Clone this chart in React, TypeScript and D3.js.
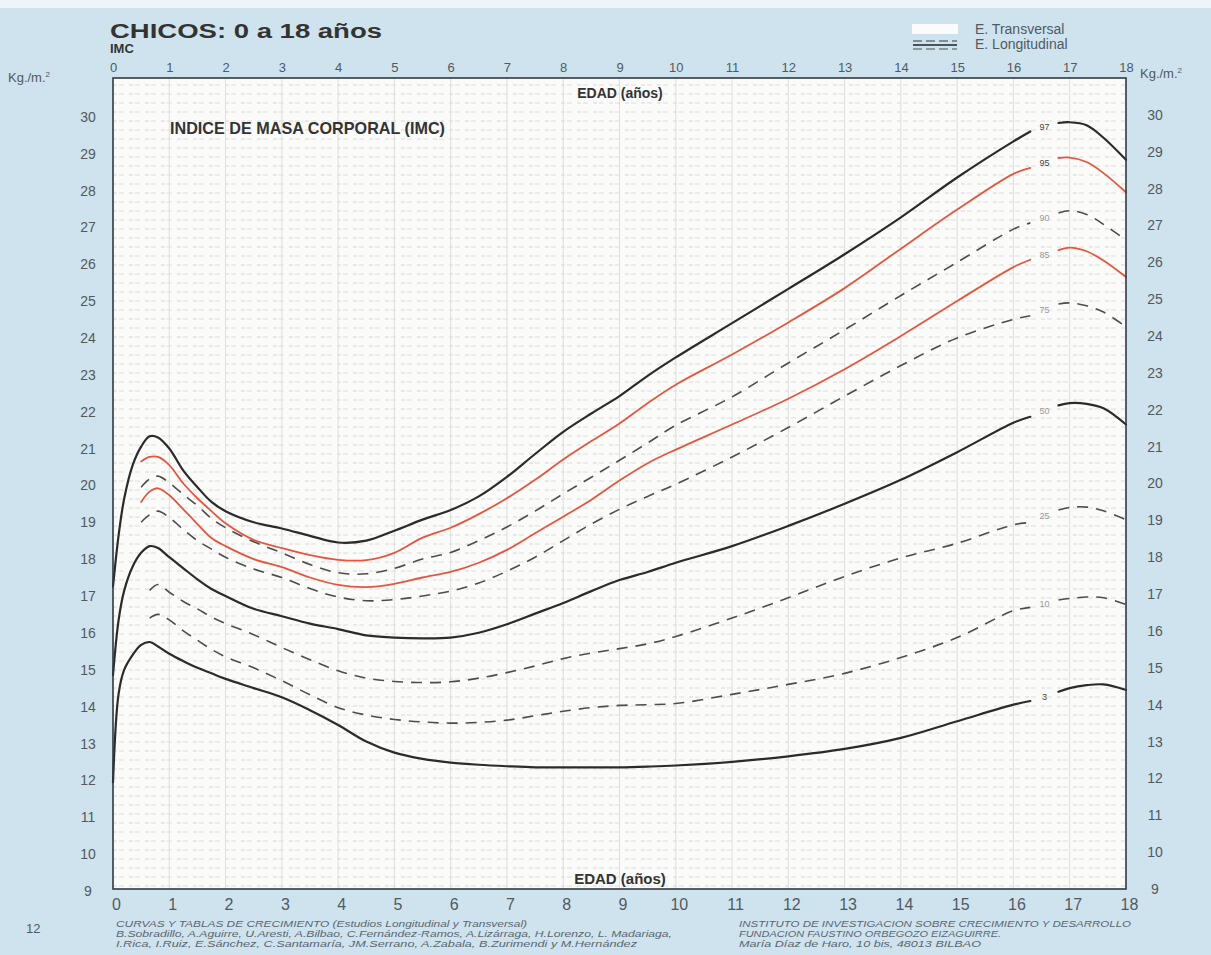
import React, { useEffect, useRef } from 'react';
import * as d3 from 'd3';

// edad (años) - shared grid, null = curve interrupted (label gap)
const ages = [0, 0.1, 0.2, 0.35, 0.5, 0.65, 0.8, 1, 1.25, 1.5, 1.75, 2, 2.5, 3, 3.5, 4, 4.5, 5, 5.5, 6, 6.5, 7, 7.5, 8, 8.5, 9, 9.5, 10, 11, 12, 13, 14, 15, 16, 16.3, 16.55, 16.8, 17, 17.3, 17.6, 18];

const p97 = [17.2, 18.6, 19.6, 20.5, 21.0, 21.28, 21.25, 20.95, 20.35, 19.9, 19.5, 19.25, 18.95, 18.78, 18.58, 18.4, 18.45, 18.72, 19.02, 19.28, 19.65, 20.18, 20.8, 21.4, 21.9, 22.37, 22.92, 23.42, 24.35, 25.28, 26.22, 27.22, 28.3, 29.28, 29.55, null, 29.78, 29.8, 29.72, 29.38, 28.78];
const p95 = [null, null, null, null, 20.6, 20.72, 20.72, 20.5, 20.0, 19.6, 19.25, 18.92, 18.47, 18.25, 18.06, 17.93, 17.92, 18.12, 18.53, 18.8, 19.17, 19.6, 20.1, 20.65, 21.15, 21.63, 22.18, 22.68, 23.5, 24.37, 25.3, 26.37, 27.43, 28.4, 28.56, null, 28.83, 28.84, 28.72, 28.42, 27.9];
const p90 = [null, null, null, null, 19.9, 20.12, 20.2, 20.02, 19.7, 19.4, 19.05, 18.8, 18.42, 18.12, 17.8, 17.58, 17.55, 17.7, 17.95, 18.13, 18.45, 18.82, 19.25, 19.72, 20.17, 20.63, 21.1, 21.58, 22.35, 23.27, 24.17, 25.1, 26.0, 26.9, 27.07, null, 27.34, 27.4, 27.3, 27.03, 26.6];
const p85 = [null, null, null, null, 19.5, 19.78, 19.87, 19.68, 19.3, 18.9, 18.52, 18.3, 17.95, 17.73, 17.45, 17.25, 17.19, 17.28, 17.45, 17.6, 17.85, 18.2, 18.65, 19.1, 19.56, 20.08, 20.55, 20.92, 21.6, 22.3, 23.1, 24.0, 24.95, 25.87, 26.07, null, 26.33, 26.4, 26.3, 26.05, 25.6];
const p75 = [null, null, null, null, 18.95, 19.15, 19.25, 19.08, 18.75, 18.45, 18.22, 18.0, 17.68, 17.45, 17.15, 16.92, 16.82, 16.85, 16.95, 17.08, 17.3, 17.62, 18.0, 18.45, 18.9, 19.3, 19.65, 19.98, 20.72, 21.52, 22.37, 23.2, 23.95, 24.45, 24.55, null, 24.87, 24.9, 24.82, 24.65, 24.25];
const p50 = [14.8, 16.3, 17.1, 17.75, 18.12, 18.3, 18.25, 18.0, 17.7, 17.4, 17.14, 16.95, 16.6, 16.4, 16.2, 16.05, 15.88, 15.82, 15.8, 15.82, 15.95, 16.18, 16.47, 16.76, 17.08, 17.38, 17.6, 17.85, 18.3, 18.85, 19.45, 20.1, 20.85, 21.65, 21.81, null, 22.12, 22.18, 22.16, 22.04, 21.6];
const p25 = [null, null, null, null, null, 17.1, 17.26, 17.05, 16.8, 16.6, 16.38, 16.2, 15.9, 15.55, 15.22, 14.92, 14.72, 14.63, 14.6, 14.62, 14.72, 14.87, 15.05, 15.25, 15.4, 15.52, 15.65, 15.85, 16.35, 16.9, 17.48, 17.98, 18.38, 18.88, 18.94, null, 19.28, 19.35, 19.36, 19.26, 19.02];
const p10 = [null, null, null, null, null, 16.35, 16.45, 16.3, 16.0, 15.75, 15.5, 15.3, 15.0, 14.65, 14.27, 13.92, 13.72, 13.6, 13.53, 13.5, 13.52, 13.58, 13.7, 13.82, 13.92, 13.98, 14.0, 14.03, 14.28, 14.55, 14.85, 15.28, 15.82, 16.55, 16.64, null, 16.84, 16.88, 16.92, 16.9, 16.72];
const p3 = [11.9, 14.3, 14.95, 15.35, 15.62, 15.7, 15.58, 15.38, 15.18, 15.0, 14.85, 14.7, 14.45, 14.2, 13.85, 13.45, 13.0, 12.7, 12.53, 12.43, 12.37, 12.33, 12.3, 12.3, 12.3, 12.3, 12.32, 12.35, 12.45, 12.6, 12.8, 13.1, 13.55, 14.0, 14.1, null, 14.35, 14.45, 14.53, 14.55, 14.4];

const percentileNames = ['97', '95', '90', '85', '75', '50', '25', '10', '3'];
const percentileValues = [p97, p95, p90, p85, p75, p50, p25, p10, p3];

const ageTicks = [0, 1, 2, 3, 4, 5, 6, 7, 8, 9, 10, 11, 12, 13, 14, 15, 16, 17, 18];
const imcTicks = [9, 10, 11, 12, 13, 14, 15, 16, 17, 18, 19, 20, 21, 22, 23, 24, 25, 26, 27, 28, 29, 30];

const footerLeft = [
  'CURVAS Y TABLAS DE CRECIMIENTO (Estudios Longitudinal y Transversal)',
  'B.Sobradillo, A.Aguirre, U.Aresti, A.Bilbao, C.Fernández-Ramos, A.Lizárraga, H.Lorenzo, L. Madariaga,',
  'I.Rica, I.Ruiz, E.Sánchez, C.Santamaría, JM.Serrano,  A.Zabala, B.Zurimendi y M.Hernández'
];
const footerRight = [
  'INSTITUTO DE INVESTIGACION SOBRE CRECIMIENTO Y DESARROLLO',
  'FUNDACION FAUSTINO ORBEGOZO EIZAGUIRRE.',
  'María Díaz de Haro, 10 bis, 48013 BILBAO'
];

// line look per percentile
const kindOf: Record<string, string> = {
  '97': 'black', '95': 'red', '90': 'dash', '85': 'red', '75': 'dash',
  '50': 'black', '25': 'dash', '10': 'dash', '3': 'black'
};

const W = 1211;
const H = 955;
const FONT = '"Liberation Sans", Arial, Helvetica, sans-serif';
const NARROW = '"Liberation Sans Narrow", "Liberation Sans", Arial, sans-serif';

export default function App () {
  const ref = useRef<SVGSVGElement>(null);

  useEffect(() => {
    document.body.style.margin = '0';
    const svg = d3.select(ref.current);
    svg.selectAll('*').remove();

    const x = d3.scaleLinear().domain([0, 18]).range([113, 1126]);
    const y = d3.scaleLinear().domain([9, 31]).range([889, 78]);

    // page background
    svg.append('rect').attr('width', W).attr('height', H).attr('fill', '#cfe3ef');
    svg.append('rect').attr('width', W).attr('height', 8).attr('fill', '#eef5f9');

    // faint printed texture inside the plot
    const defs = svg.append('defs');
    const pat = defs.append('pattern')
      .attr('id', 'tex')
      .attr('width', 16)
      .attr('height', 9)
      .attr('patternUnits', 'userSpaceOnUse');
    pat.append('rect').attr('x', 1).attr('y', 3).attr('width', 4).attr('height', 2).attr('fill', '#e9e9e9');
    pat.append('rect').attr('x', 7).attr('y', 3).attr('width', 5).attr('height', 2).attr('fill', '#ececec');

    const plotW = x(18) - x(0);
    const plotH = y(9) - y(31);
    svg.append('rect')
      .attr('x', x(0)).attr('y', y(31))
      .attr('width', plotW).attr('height', plotH)
      .attr('fill', '#fbfbfa');
    svg.append('rect')
      .attr('x', x(0)).attr('y', y(31))
      .attr('width', plotW).attr('height', plotH)
      .attr('fill', 'url(#tex)');

    // faint yearly rulings
    svg.append('g')
      .selectAll('line')
      .data(ageTicks.slice(1, -1))
      .enter()
      .append('line')
      .attr('x1', d => x(d)).attr('x2', d => x(d))
      .attr('y1', y(31)).attr('y2', y(9))
      .attr('stroke', '#dedede')
      .attr('stroke-width', 1);

    // text headers inside plot
    svg.append('text')
      .attr('x', 620).attr('y', 98)
      .attr('text-anchor', 'middle')
      .attr('font-family', FONT).attr('font-weight', 'bold').attr('font-size', 14)
      .attr('fill', '#333')
      .text('EDAD (años)');
    svg.append('text')
      .attr('x', 620).attr('y', 884)
      .attr('text-anchor', 'middle')
      .attr('font-family', FONT).attr('font-weight', 'bold').attr('font-size', 15)
      .attr('fill', '#333')
      .text('EDAD (años)');
    svg.append('text')
      .attr('x', 170).attr('y', 134)
      .attr('font-family', FONT).attr('font-weight', 'bold').attr('font-size', 17)
      .attr('textLength', 275).attr('lengthAdjust', 'spacingAndGlyphs')
      .attr('fill', '#333')
      .text('INDICE DE MASA CORPORAL (IMC)');

    // percentile curves
    const line = d3.line<number>()
      .defined((d, i) => d !== null && d !== undefined && ages[i] !== undefined)
      .x((d, i) => x(ages[i]))
      .y(d => y(d as number))
      .curve(d3.curveCatmullRom.alpha(0.5));

    const curves = svg.append('g').attr('fill', 'none');
    percentileNames.forEach((name, k) => {
      const kind = kindOf[name];
      const p = curves.append('path')
        .attr('d', line(percentileValues[k] as number[]))
        .attr('stroke-linecap', 'round')
        .attr('stroke-linejoin', 'round');
      if (kind === 'black') {
        p.attr('stroke', '#2b2b2b').attr('stroke-width', 2.2);
      } else if (kind === 'red') {
        p.attr('stroke', '#e4573f').attr('stroke-width', 1.8);
      } else {
        p.attr('stroke', '#4d4d4d').attr('stroke-width', 1.6)
          .attr('stroke-dasharray', '11,8').attr('stroke-linecap', 'butt');
      }
    });

    // percentile labels in the gaps
    const gapIdx = ages.indexOf(16.55);
    svg.append('g')
      .selectAll('text')
      .data(percentileNames)
      .enter()
      .append('text')
      .attr('x', x(16.55))
      .attr('y', (d, k) => y(((percentileValues[k][gapIdx - 1] as number) + (percentileValues[k][gapIdx + 1] as number)) / 2))
      .attr('dy', '0.35em')
      .attr('text-anchor', 'middle')
      .attr('font-family', FONT)
      .attr('font-size', 9)
      .attr('fill', d => (d === '97' || d === '95' || d === '3') ? '#444' : '#9a9a9a')
      .text(d => d);

    // frame
    svg.append('rect')
      .attr('x', x(0)).attr('y', y(31))
      .attr('width', plotW).attr('height', plotH)
      .attr('fill', 'none')
      .attr('stroke', '#2f3a40')
      .attr('stroke-width', 1.6);

    // axes (labels only)
    const styleAxis = (g: any, size: number, family: string) => {
      g.select('.domain').remove();
      g.selectAll('.tick line').remove();
      g.selectAll('.tick text')
        .attr('font-family', family)
        .attr('font-size', size)
        .attr('fill', '#4f5a60');
    };

    svg.append('g')
      .attr('transform', 'translate(0,72)')
      .call(d3.axisTop(x).tickValues(ageTicks).tickSize(0).tickPadding(0).tickFormat(d3.format('d')))
      .call((g: any) => styleAxis(g, 13, FONT));

    svg.append('g')
      .attr('transform', 'translate(3,899)')
      .call(d3.axisBottom(x).tickValues(ageTicks).tickSize(0).tickPadding(0).tickFormat(d3.format('d')))
      .call((g: any) => styleAxis(g, 16, NARROW));

    svg.append('g')
      .attr('transform', 'translate(88,2)')
      .call(d3.axisLeft(y).tickValues(imcTicks).tickSize(0).tickPadding(0).tickFormat(d3.format('d')))
      .call((g: any) => {
        styleAxis(g, 14, FONT);
        g.selectAll('.tick text').attr('text-anchor', 'middle').attr('x', 0);
      });

    svg.append('g')
      .attr('transform', 'translate(1155,0)')
      .call(d3.axisRight(y).tickValues(imcTicks).tickSize(0).tickPadding(0).tickFormat(d3.format('d')))
      .call((g: any) => {
        styleAxis(g, 14, FONT);
        g.selectAll('.tick text').attr('text-anchor', 'middle').attr('x', 0);
      });

    // units
    const unit = (ux: number, uy: number) => {
      const t = svg.append('text')
        .attr('x', ux).attr('y', uy)
        .attr('font-family', FONT).attr('font-size', 13)
        .attr('fill', '#4f5a60');
      t.append('tspan').text('Kg./m.');
      t.append('tspan').attr('font-size', 8).attr('dy', -5).text('2');
    };
    unit(8, 82);
    unit(1140, 78);

    // title
    svg.append('text')
      .attr('x', 110).attr('y', 38)
      .attr('font-family', FONT).attr('font-weight', 'bold').attr('font-size', 20)
      .attr('textLength', 272).attr('lengthAdjust', 'spacingAndGlyphs')
      .attr('fill', '#333')
      .text('CHICOS: 0 a 18 años');
    svg.append('text')
      .attr('x', 110).attr('y', 53)
      .attr('font-family', FONT).attr('font-weight', 'bold').attr('font-size', 13)
      .attr('fill', '#333')
      .text('IMC');

    // legend
    svg.append('rect')
      .attr('x', 912).attr('y', 24).attr('width', 46).attr('height', 10)
      .attr('fill', '#fbfbfb');
    svg.append('line')
      .attr('x1', 913).attr('x2', 957).attr('y1', 41).attr('y2', 41)
      .attr('stroke', '#6a7378').attr('stroke-width', 1.5).attr('stroke-dasharray', '9,4');
    svg.append('line')
      .attr('x1', 913).attr('x2', 957).attr('y1', 45).attr('y2', 45)
      .attr('stroke', '#4a5358').attr('stroke-width', 2);
    svg.append('line')
      .attr('x1', 913).attr('x2', 957).attr('y1', 49).attr('y2', 49)
      .attr('stroke', '#7a8388').attr('stroke-width', 1.5).attr('stroke-dasharray', '9,4');
    svg.append('text')
      .attr('x', 975).attr('y', 34)
      .attr('font-family', FONT).attr('font-size', 14).attr('fill', '#505a60')
      .text('E. Transversal');
    svg.append('text')
      .attr('x', 975).attr('y', 49)
      .attr('font-family', FONT).attr('font-size', 14).attr('fill', '#505a60')
      .text('E. Longitudinal');

    // footer
    svg.append('text')
      .attr('x', 26).attr('y', 933)
      .attr('font-family', NARROW).attr('font-size', 13).attr('fill', '#4f5a60')
      .text('12');
    const leftLen = [411, 556, 521];
    const rightLen = [392, 262, 242];
    footerLeft.forEach((s, i) => {
      svg.append('text')
        .attr('x', 116).attr('y', 927 + i * 10)
        .attr('font-family', NARROW).attr('font-style', 'italic').attr('font-size', 8.5)
        .attr('textLength', leftLen[i]).attr('lengthAdjust', 'spacingAndGlyphs')
        .attr('fill', '#5a6670')
        .text(s);
    });
    footerRight.forEach((s, i) => {
      svg.append('text')
        .attr('x', 739).attr('y', 927 + i * 10)
        .attr('font-family', NARROW).attr('font-style', 'italic').attr('font-size', 8.5)
        .attr('textLength', rightLen[i]).attr('lengthAdjust', 'spacingAndGlyphs')
        .attr('fill', '#5a6670')
        .text(s);
    });
  }, []);

  return <svg ref={ref} width={W} height={H} style={{ display: 'block' }} />;
}
